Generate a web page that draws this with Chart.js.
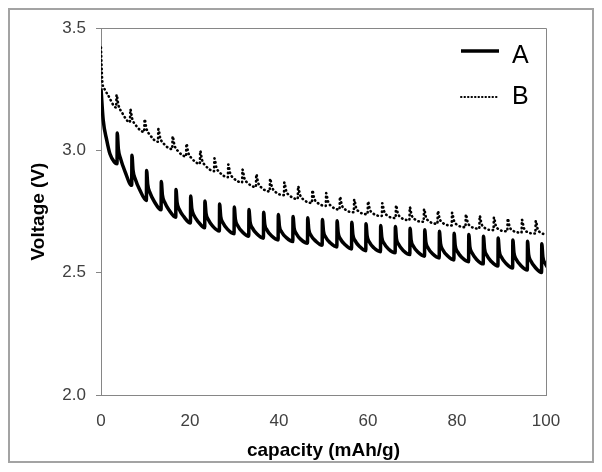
<!DOCTYPE html>
<html>
<head>
<meta charset="utf-8">
<script src="https://cdn.jsdelivr.net/npm/chart.js@4.4.0/dist/chart.umd.min.js"></script>
<style>
  html, body { margin: 0; padding: 0; background: #fff; }
  #wrap { width: 602px; height: 472px; }
</style>
</head>
<body>
<div id="wrap"><canvas id="voltChart" width="602" height="472"></canvas></div>
<script>
// pulse discharge curves
const xTicks = [0, 20, 40, 60, 80, 100];
const yTicks = [2.0, 2.5, 3.0, 3.5];
const seriesLabels = ['A', 'B'];

// A: solid, one spike per pulse (rest point, peak, three points of the decay)
const capacityA = [0, 0.5, 1.3, 2.0, 3.0,
  3.6, 3.65, 3.9, 4.4, 5.4,
  6.9, 6.95, 7.2, 7.7, 8.7,
  10.2, 10.25, 10.5, 11.0, 12.0,
  13.5, 13.55, 13.8, 14.3, 15.3,
  16.8, 16.85, 17.1, 17.6, 18.6,
  20.1, 20.15, 20.4, 20.9, 21.9,
  23.3, 23.35, 23.6, 24.1, 25.1,
  26.6, 26.65, 26.9, 27.4, 28.4,
  29.9, 29.95, 30.2, 30.7, 31.7,
  33.2, 33.25, 33.5, 34.0, 35.0,
  36.5, 36.55, 36.8, 37.3, 38.3,
  39.8, 39.85, 40.1, 40.6, 41.6,
  43.1, 43.15, 43.4, 43.9, 44.9,
  46.4, 46.45, 46.7, 47.2, 48.2,
  49.7, 49.75, 50.0, 50.5, 51.5,
  53.0, 53.05, 53.3, 53.8, 54.8,
  56.3, 56.35, 56.6, 57.1, 58.1,
  59.5, 59.55, 59.8, 60.3, 61.3,
  62.8, 62.85, 63.1, 63.6, 64.6,
  66.1, 66.15, 66.4, 66.9, 67.9,
  69.4, 69.45, 69.7, 70.2, 71.2,
  72.7, 72.75, 73.0, 73.5, 74.5,
  76.0, 76.05, 76.3, 76.8, 77.8,
  79.3, 79.35, 79.6, 80.1, 81.1,
  82.6, 82.65, 82.9, 83.4, 84.4,
  85.9, 85.95, 86.2, 86.7, 87.7,
  89.2, 89.25, 89.5, 90.0, 91.0,
  92.5, 92.55, 92.8, 93.3, 94.3,
  95.8, 95.85, 96.1, 96.6, 97.6,
  99.0, 99.05, 99.3, 99.8, 100.8];
const voltageA = [3.253, 3.123, 3.041, 2.986, 2.952,
  2.945, 3.071, 3.006, 2.966, 2.913,
  2.857, 2.980, 2.919, 2.883, 2.839,
  2.795, 2.918, 2.860, 2.827, 2.790,
  2.757, 2.873, 2.818, 2.788, 2.756,
  2.727, 2.840, 2.787, 2.758, 2.729,
  2.703, 2.813, 2.762, 2.734, 2.707,
  2.684, 2.793, 2.743, 2.717, 2.690,
  2.670, 2.781, 2.730, 2.704, 2.678,
  2.659, 2.768, 2.718, 2.693, 2.668,
  2.649, 2.758, 2.708, 2.683, 2.659,
  2.641, 2.747, 2.698, 2.674, 2.651,
  2.634, 2.738, 2.690, 2.666, 2.644,
  2.627, 2.730, 2.683, 2.659, 2.636,
  2.620, 2.724, 2.676, 2.652, 2.630,
  2.612, 2.717, 2.669, 2.645, 2.622,
  2.605, 2.712, 2.663, 2.638, 2.615,
  2.597, 2.706, 2.656, 2.631, 2.607,
  2.590, 2.700, 2.651, 2.625, 2.602,
  2.586, 2.693, 2.645, 2.620, 2.597,
  2.581, 2.689, 2.639, 2.615, 2.591,
  2.574, 2.682, 2.632, 2.608, 2.584,
  2.567, 2.675, 2.625, 2.601, 2.577,
  2.560, 2.669, 2.619, 2.594, 2.570,
  2.552, 2.661, 2.611, 2.586, 2.562,
  2.545, 2.656, 2.605, 2.580, 2.554,
  2.536, 2.649, 2.597, 2.571, 2.546,
  2.527, 2.642, 2.589, 2.563, 2.538,
  2.519, 2.634, 2.581, 2.555, 2.530,
  2.511, 2.628, 2.574, 2.548, 2.521,
  2.501, 2.618, 2.564, 2.538, 2.511];

// B: dotted, smaller bumps
const capacityB = [0, 0.1, 0.3, 0.8, 1.6,
  3.4, 3.5, 3.9, 4.7,
  6.5, 6.6, 7.0, 7.8,
  9.7, 9.8, 10.2, 11.0,
  12.8, 12.9, 13.3, 14.1,
  16.0, 16.1, 16.5, 17.3,
  19.1, 19.2, 19.6, 20.4,
  22.2, 22.3, 22.7, 23.5,
  25.4, 25.5, 25.9, 26.7,
  28.5, 28.6, 29.0, 29.8,
  31.7, 31.8, 32.2, 33.0,
  34.8, 34.9, 35.3, 36.1,
  37.9, 38.0, 38.4, 39.2,
  41.1, 41.2, 41.6, 42.4,
  44.2, 44.3, 44.7, 45.5,
  47.4, 47.5, 47.9, 48.7,
  50.5, 50.6, 51.0, 51.8,
  53.6, 53.7, 54.1, 54.9,
  56.8, 56.9, 57.3, 58.1,
  59.9, 60.0, 60.4, 61.2,
  63.1, 63.2, 63.6, 64.4,
  66.2, 66.3, 66.7, 67.5,
  69.3, 69.4, 69.8, 70.6,
  72.5, 72.6, 73.0, 73.8,
  75.6, 75.7, 76.1, 76.9,
  78.8, 78.9, 79.3, 80.1,
  81.9, 82.0, 82.4, 83.2,
  85.0, 85.1, 85.5, 86.3,
  88.2, 88.3, 88.7, 89.5,
  91.3, 91.4, 91.8, 92.6,
  94.5, 94.6, 95.0, 95.8,
  97.6, 97.7, 98.1, 98.9,
  100];
const voltageB = [3.420, 3.360, 3.280, 3.250, 3.225,
  3.175, 3.227, 3.186, 3.155,
  3.115, 3.167, 3.130, 3.103,
  3.075, 3.127, 3.090, 3.063,
  3.035, 3.087, 3.051, 3.027,
  3.005, 3.057, 3.021, 2.997,
  2.975, 3.027, 2.991, 2.967,
  2.945, 2.997, 2.961, 2.937,
  2.915, 2.967, 2.932, 2.909,
  2.890, 2.942, 2.908, 2.886,
  2.869, 2.921, 2.887, 2.866,
  2.850, 2.902, 2.868, 2.847,
  2.832, 2.884, 2.851, 2.830,
  2.817, 2.869, 2.835, 2.815,
  2.801, 2.853, 2.819, 2.799,
  2.785, 2.837, 2.804, 2.785,
  2.773, 2.825, 2.792, 2.771,
  2.758, 2.810, 2.777, 2.758,
  2.747, 2.799, 2.767, 2.748,
  2.739, 2.791, 2.759, 2.741,
  2.732, 2.784, 2.752, 2.733,
  2.723, 2.775, 2.743, 2.724,
  2.715, 2.767, 2.735, 2.717,
  2.708, 2.760, 2.728, 2.709,
  2.700, 2.752, 2.720, 2.702,
  2.693, 2.745, 2.713, 2.695,
  2.686, 2.738, 2.706, 2.688,
  2.680, 2.732, 2.700, 2.682,
  2.674, 2.726, 2.694, 2.676,
  2.669, 2.721, 2.689, 2.671,
  2.664, 2.716, 2.684, 2.666,
  2.660, 2.712, 2.680, 2.662,
  2.657];

const FONT = "'Liberation Sans', Arial, sans-serif";
Chart.defaults.font.family = FONT;

function toPoints(xs, ys) {
  return xs.map((x, i) => ({ x: x, y: ys[i] }));
}

// white page, grey outer frame, box round the plot area
const framePlugin = {
  id: 'frame',
  beforeDraw(chart) {
    const ctx = chart.ctx;
    ctx.save();
    ctx.fillStyle = '#fff';
    ctx.fillRect(0, 0, chart.width, chart.height);
    ctx.restore();
  },
  beforeDatasetsDraw(chart) {
    const { ctx, chartArea: a } = chart;
    ctx.save();
    ctx.strokeStyle = '#868686';
    ctx.lineWidth = 1;
    ctx.beginPath();
    ctx.moveTo(a.left, a.top + 0.5);
    ctx.lineTo(a.right + 0.5, a.top + 0.5);
    ctx.lineTo(a.right + 0.5, a.bottom);
    ctx.stroke();
    ctx.restore();
  },
  afterDraw(chart) {
    const ctx = chart.ctx;
    ctx.save();
    ctx.strokeStyle = '#a3a3a3';
    ctx.lineWidth = 2;
    ctx.strokeRect(9, 9, 584, 453);
    ctx.restore();
  }
};

// legend inside the plot, top right
const insideLegend = {
  id: 'insideLegend',
  afterDraw(chart) {
    const ctx = chart.ctx;
    const rows = [{ y: 51, ty: 56 }, { y: 97, ty: 97 }];
    ctx.save();
    chart.data.datasets.forEach((ds, i) => {
      const r = rows[i];
      ctx.strokeStyle = ds.borderColor;
      ctx.lineWidth = ds.borderDash ? 2 : ds.borderWidth;
      ctx.lineCap = ds.borderCapStyle || 'butt';
      ctx.setLineDash(ds.borderDash ? [0.5, 3] : []);
      ctx.beginPath();
      ctx.moveTo(461, r.y);
      ctx.lineTo(499, r.y);
      ctx.stroke();
      ctx.setLineDash([]);
      ctx.fillStyle = '#000';
      ctx.font = '25px ' + FONT;
      ctx.textAlign = 'left';
      ctx.textBaseline = 'middle';
      ctx.fillText(ds.label, 512, r.ty);
    });
    ctx.restore();
  }
};

new Chart(document.getElementById('voltChart'), {
  type: 'line',
  data: {
    datasets: [
      {
        label: seriesLabels[0],
        data: toPoints(capacityA, voltageA),
        borderColor: '#000',
        borderWidth: 3.5,
        pointRadius: 0,
        cubicInterpolationMode: 'monotone',
        fill: false
      },
      {
        label: seriesLabels[1],
        data: toPoints(capacityB, voltageB),
        borderColor: '#000',
        borderWidth: 2.6,
        borderDash: [0.4, 3.8],
        borderCapStyle: 'round',
        pointRadius: 0,
        cubicInterpolationMode: 'monotone',
        fill: false
      }
    ]
  },
  options: {
    responsive: false,
    animation: false,
    layout: { padding: { left: 0, right: 56, top: 28, bottom: 0 } },
    plugins: { legend: { display: false }, tooltip: { enabled: false } },
    scales: {
      x: {
        type: 'linear',
        min: 0,
        max: 100,
        afterBuildTicks: s => { s.ticks = xTicks.map(v => ({ value: v })); },
        afterFit: s => { s.height = 77; },
        grid: { display: false, drawTicks: false },
        border: { color: '#868686', width: 1 },
        ticks: { color: '#404040', font: { size: 17 }, padding: 16, maxRotation: 0 },
        title: {
          display: true,
          text: 'capacity (mAh/g)',
          color: '#000',
          font: { size: 19, weight: 'bold' },
          padding: { top: 0, bottom: 10 }
        }
      },
      y: {
        type: 'linear',
        min: 2.0,
        max: 3.5,
        afterBuildTicks: s => { s.ticks = yTicks.map(v => ({ value: v })); },
        afterFit: s => { s.width = 101; },
        grid: { drawOnChartArea: false, drawTicks: true, tickLength: 5, color: '#868686' },
        border: { color: '#868686', width: 1 },
        ticks: { color: '#404040', font: { size: 17 }, padding: 10, callback: v => v.toFixed(1) },
        title: {
          display: true,
          text: 'Voltage (V)',
          color: '#000',
          font: { size: 19, weight: 'bold' },
          padding: { top: 27, bottom: 0 }
        }
      }
    }
  },
  plugins: [framePlugin, insideLegend]
});
</script>
</body>
</html>
